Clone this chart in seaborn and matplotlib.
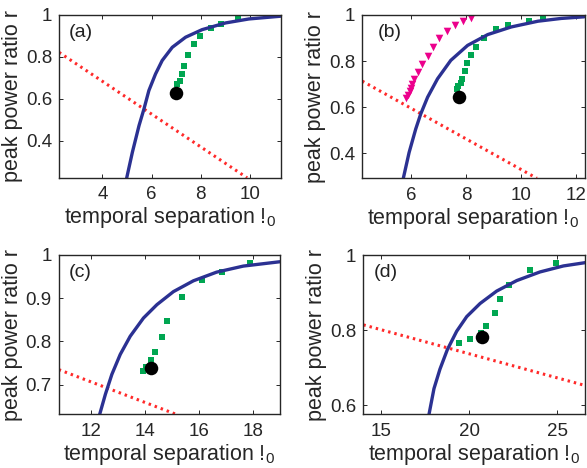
import numpy as np
import pandas as pd
import matplotlib
matplotlib.use("Agg")
import matplotlib.pyplot as plt
from matplotlib.ticker import FuncFormatter
import seaborn as sns

# ---- panel (a) ----
a_blue_x = [4.99, 5.22, 5.49, 5.69, 5.89, 6.16, 6.43, 6.84, 7.38, 8.05, 9.0, 9.95, 11.23]
a_blue_y = [0.224, 0.346, 0.473, 0.552, 0.640, 0.719, 0.783, 0.846, 0.894, 0.930, 0.962, 0.981, 0.994]
a_red_x = [2.24, 9.88]
a_red_y = [0.822, 0.224]
a_green_x = [7.04, 7.14, 7.22, 7.30, 7.46, 7.72, 7.97, 8.42, 8.82, 9.49]
a_green_y = [0.671, 0.687, 0.721, 0.756, 0.808, 0.863, 0.900, 0.940, 0.959, 0.979]
a_dot = (7.0, 0.630)

# ---- panel (b) ----
b_blue_x = [5.73, 5.94, 6.18, 6.36, 6.61, 6.97, 7.45, 8.06, 8.79, 9.64, 10.61, 11.45, 12.28]
b_blue_y = [0.291, 0.403, 0.505, 0.570, 0.643, 0.723, 0.803, 0.868, 0.915, 0.948, 0.973, 0.985, 0.992]
b_red_x = [4.24, 10.57]
b_red_y = [0.713, 0.291]
b_green_x = [7.66, 7.72, 7.81, 7.87, 7.95, 8.05, 8.19, 8.36, 8.67, 9.10, 9.52, 10.30, 10.80]
b_green_y = [0.678, 0.692, 0.705, 0.723, 0.755, 0.791, 0.826, 0.863, 0.900, 0.937, 0.956, 0.976, 0.986]
b_tri_x = [5.84, 5.90, 5.96, 6.00, 6.06, 6.12, 6.27, 6.41, 6.61, 6.79, 7.01, 7.31, 7.60, 7.88, 8.18]
b_tri_y = [0.639, 0.653, 0.668, 0.682, 0.701, 0.720, 0.751, 0.788, 0.823, 0.863, 0.900, 0.931, 0.956, 0.976, 0.988]
b_dot = (7.75, 0.644)

# ---- panel (c) ----
c_blue_x = [12.31, 12.52, 12.76, 13.07, 13.44, 13.93, 14.43, 15.04, 15.78, 16.64, 17.63, 18.98]
c_blue_y = [0.632, 0.678, 0.724, 0.770, 0.812, 0.854, 0.885, 0.915, 0.940, 0.960, 0.974, 0.984]
c_red_x = [10.79, 15.13]
c_red_y = [0.735, 0.632]
c_green_x = [13.90, 14.01, 14.20, 14.35, 14.61, 14.81, 15.36, 16.11, 16.84, 17.87]
c_green_y = [0.731, 0.741, 0.757, 0.775, 0.810, 0.847, 0.903, 0.941, 0.961, 0.980]
c_dot = (14.20, 0.738)

# ---- panel (d) ----
d_blue_x = [17.73, 18.01, 18.35, 18.77, 19.30, 19.87, 20.63, 21.57, 22.71, 24.03, 25.36, 26.63]
d_blue_y = [0.576, 0.644, 0.696, 0.748, 0.797, 0.836, 0.871, 0.904, 0.932, 0.955, 0.971, 0.980]
d_red_x = [14.0, 26.63]
d_red_y = [0.814, 0.652]
d_green_x = [19.45, 20.08, 20.66, 20.97, 21.48, 21.78, 22.27, 23.47, 24.96]
d_green_y = [0.766, 0.775, 0.792, 0.810, 0.846, 0.883, 0.921, 0.960, 0.978]
d_dot = (20.74, 0.782)

sns.set_style("ticks")
plt.rcParams['font.family'] = ['Liberation Sans', 'DejaVu Sans']
plt.rcParams['mathtext.fontset'] = 'custom'
plt.rcParams['mathtext.rm'] = 'Liberation Sans'

BLUE = "#2b3192"
RED = "#ff2a2a"
GREEN = "#00a651"
MAGENTA = "#ec008c"

fig = plt.figure(figsize=(5.87, 4.68), dpi=100)
boxes = [[0.1005, 0.620, 0.378, 0.348],
         [0.617, 0.619, 0.379, 0.349],
         [0.100, 0.115, 0.3775, 0.3405],
         [0.619, 0.115, 0.378, 0.340]]


def draw_panel(box, tag, blue, red, green, dot, xlim, ylim, xticks, yticks, tri=None, tagx=0.045):
    ax = fig.add_axes(box)
    sns.lineplot(x=red[0], y=red[1], ax=ax, color=RED, lw=2.2, linestyle=(0, (0.8, 1.3)), sort=False)
    sns.lineplot(x=blue[0], y=blue[1], ax=ax, color=BLUE, lw=2.4, sort=False)
    if tri is not None:
        sns.scatterplot(x=tri[0], y=tri[1], ax=ax, color=MAGENTA, marker="v", s=30, linewidth=0)
    sns.scatterplot(x=green[0], y=green[1], ax=ax, color=GREEN, marker="s", s=22, linewidth=0)
    sns.scatterplot(x=[dot[0]], y=[dot[1]], ax=ax, color="black", marker="o", s=95, linewidth=0, zorder=5)
    ax.set_xlim(*xlim)
    ax.set_ylim(*ylim)
    ax.set_xticks(xticks)
    ax.set_yticks(yticks)
    ax.yaxis.set_major_formatter(FuncFormatter(lambda v, p: "%g" % v))
    ax.tick_params(direction="in", top=True, right=True, labelsize=13.5, length=3, width=0.7)
    ax.tick_params(axis="x", pad=6)
    ax.tick_params(axis="y", pad=5)
    for s in ax.spines.values():
        s.set_linewidth(1.0)
    ax.set_xlabel("temporal separation !$_0$", fontsize=15.5, labelpad=1.5)
    ax.set_ylabel("peak power ratio r", fontsize=15.5, labelpad=2)
    ax.text(tagx, 0.945, tag, transform=ax.transAxes, fontsize=14, va="top", ha="left", color="#222222")
    return ax


draw_panel(boxes[0], "(a)", (a_blue_x, a_blue_y), (a_red_x, a_red_y), (a_green_x, a_green_y), a_dot,
           (2.24, 11.25), (0.224, 1.0), [4, 6, 8, 10], [0.4, 0.6, 0.8, 1.0])
draw_panel(boxes[1], "(b)", (b_blue_x, b_blue_y), (b_red_x, b_red_y), (b_green_x, b_green_y), b_dot,
           (4.24, 12.3), (0.291, 1.0), [6, 8, 10, 12], [0.4, 0.6, 0.8, 1.0], tri=(b_tri_x, b_tri_y), tagx=0.068)
draw_panel(boxes[2], "(c)", (c_blue_x, c_blue_y), (c_red_x, c_red_y), (c_green_x, c_green_y), c_dot,
           (10.79, 19.0), (0.632, 1.0), [12, 14, 16, 18], [0.7, 0.8, 0.9, 1.0])
draw_panel(boxes[3], "(d)", (d_blue_x, d_blue_y), (d_red_x, d_red_y), (d_green_x, d_green_y), d_dot,
           (14.0, 26.6), (0.576, 1.0), [15, 20, 25], [0.6, 0.8, 1.0])

fig.savefig("out.png", dpi=100)
